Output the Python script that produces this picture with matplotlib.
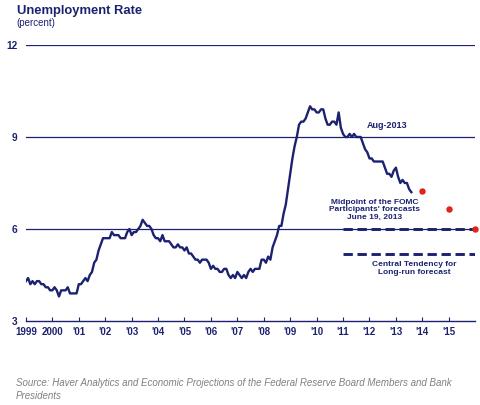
import matplotlib
matplotlib.use("Agg")
import matplotlib.pyplot as plt
import numpy as np

# monthly unemployment rate, Jan 1999 - Aug 2013
rate = [
    4.3, 4.4, 4.2, 4.3, 4.2, 4.3, 4.3, 4.2, 4.2, 4.1, 4.1, 4.0,
    4.0, 4.1, 4.0, 3.8, 4.0, 4.0, 4.0, 4.1, 3.9, 3.9, 3.9, 3.9,
    4.2, 4.2, 4.3, 4.4, 4.3, 4.5, 4.6, 4.9, 5.0, 5.3, 5.5, 5.7,
    5.7, 5.7, 5.7, 5.9, 5.8, 5.8, 5.8, 5.7, 5.7, 5.7, 5.9, 6.0,
    5.8, 5.9, 5.9, 6.0, 6.1, 6.3, 6.2, 6.1, 6.1, 6.0, 5.8, 5.7,
    5.7, 5.6, 5.8, 5.6, 5.6, 5.6, 5.5, 5.4, 5.4, 5.5, 5.4, 5.4,
    5.3, 5.4, 5.2, 5.2, 5.1, 5.0, 5.0, 4.9, 5.0, 5.0, 5.0, 4.9,
    4.7, 4.8, 4.7, 4.7, 4.6, 4.6, 4.7, 4.7, 4.5, 4.4, 4.5, 4.4,
    4.6, 4.5, 4.4, 4.5, 4.4, 4.6, 4.7, 4.6, 4.7, 4.7, 4.7, 5.0,
    5.0, 4.9, 5.1, 5.0, 5.4, 5.6, 5.8, 6.1, 6.1, 6.5, 6.8, 7.3,
    7.8, 8.3, 8.7, 9.0, 9.4, 9.5, 9.5, 9.6, 9.8, 10.0, 9.9, 9.9,
    9.8, 9.8, 9.9, 9.9, 9.6, 9.4, 9.4, 9.5, 9.5, 9.4, 9.8, 9.3,
    9.1, 9.0, 9.0, 9.1, 9.0, 9.1, 9.0, 9.0, 9.0, 8.8, 8.6, 8.5,
    8.3, 8.3, 8.2, 8.2, 8.2, 8.2, 8.2, 8.0, 7.8, 7.8, 7.7, 7.9,
    8.0, 7.7, 7.5, 7.6, 7.5, 7.5, 7.3, 7.2,
]
months = 1999 + np.arange(len(rate)) / 12.0

# FOMC midpoints (end of 2013, 2014, 2015)
fc_years = [2014.0, 2015.0, 2016.0]
fc_values = [7.25, 6.65, 6.0]
# central tendency for long run
longrun = [6.0, 5.2]
longrun_span = [2011.0, 2016.0]

years = list(range(1999, 2016))
year_labels = ["1999", "2000", "'01", "'02", "'03", "'04", "'05", "'06", "'07",
               "'08", "'09", "'10", "'11", "'12", "'13", "'14", "'15"]

navy = "#1c2270"
plt.rcParams['font.family'] = ['Liberation Sans', 'DejaVu Sans']

fig = plt.figure(figsize=(4.8, 4.05), dpi=100)
ax = fig.add_axes([0.054, 0.2074, 0.936, 0.6816])

for g in [6, 9, 12]:
    ax.axhline(g, color=navy, lw=0.9, zorder=1)

ax.plot(months, rate, color=navy, lw=1.7, zorder=3)
for v in longrun:
    ax.plot(longrun_span, [v, v], color=navy, lw=2.1, ls=(0, (3.2, 1.6)), zorder=2)
ax.scatter(fc_years, fc_values, color="#e0231b", s=13, zorder=4, clip_on=False)

ax.set_xlim(1999, 2016)
ax.set_ylim(3, 12)
ax.set_xticks(years)
ax.set_xticklabels(year_labels)
ax.set_yticks([3, 6, 9, 12])
ax.tick_params(axis='x', direction='in', length=3, color=navy, labelsize=7,
               labelcolor=navy, pad=4)
ax.tick_params(axis='y', length=0, labelsize=7.3, labelcolor=navy, pad=6)
for lab in ax.get_xticklabels() + ax.get_yticklabels():
    lab.set_fontweight('bold')
for s in ['top', 'right', 'left']:
    ax.spines[s].set_visible(False)
ax.spines['bottom'].set_color(navy)
ax.spines['bottom'].set_linewidth(1.0)

ax.text(2012.66, 9.39, "Aug-2013", color=navy, fontsize=6.5, fontweight='bold',
        ha='center', va='center')
ax.text(2012.2, 6.62, "Midpoint of the FOMC\nParticipants' forecasts\nJune 19, 2013",
        color=navy, fontsize=6.0, fontweight='bold', ha='center', va='center',
        linespacing=1.15)
ax.text(2013.68, 4.71, "Central Tendency for\nLong-run forecast", color=navy,
        fontsize=6.0, fontweight='bold', ha='center', va='center', linespacing=1.15)

fig.text(0.035, 0.988, "Unemployment Rate", color=navy, fontsize=9.4,
         fontweight='bold', ha='left', va='top')
fig.text(0.035, 0.956, "(percent)", color=navy, fontsize=7.0, ha='left', va='top')
fig.text(0.033, 0.038,
         "Source: Haver Analytics and Economic Projections of the Federal Reserve Board Members and Bank\nPresidents",
         color="#808080", fontsize=7.0, style='italic', ha='left', va='center',
         linespacing=1.3)

fig.savefig("out.png", dpi=100)
